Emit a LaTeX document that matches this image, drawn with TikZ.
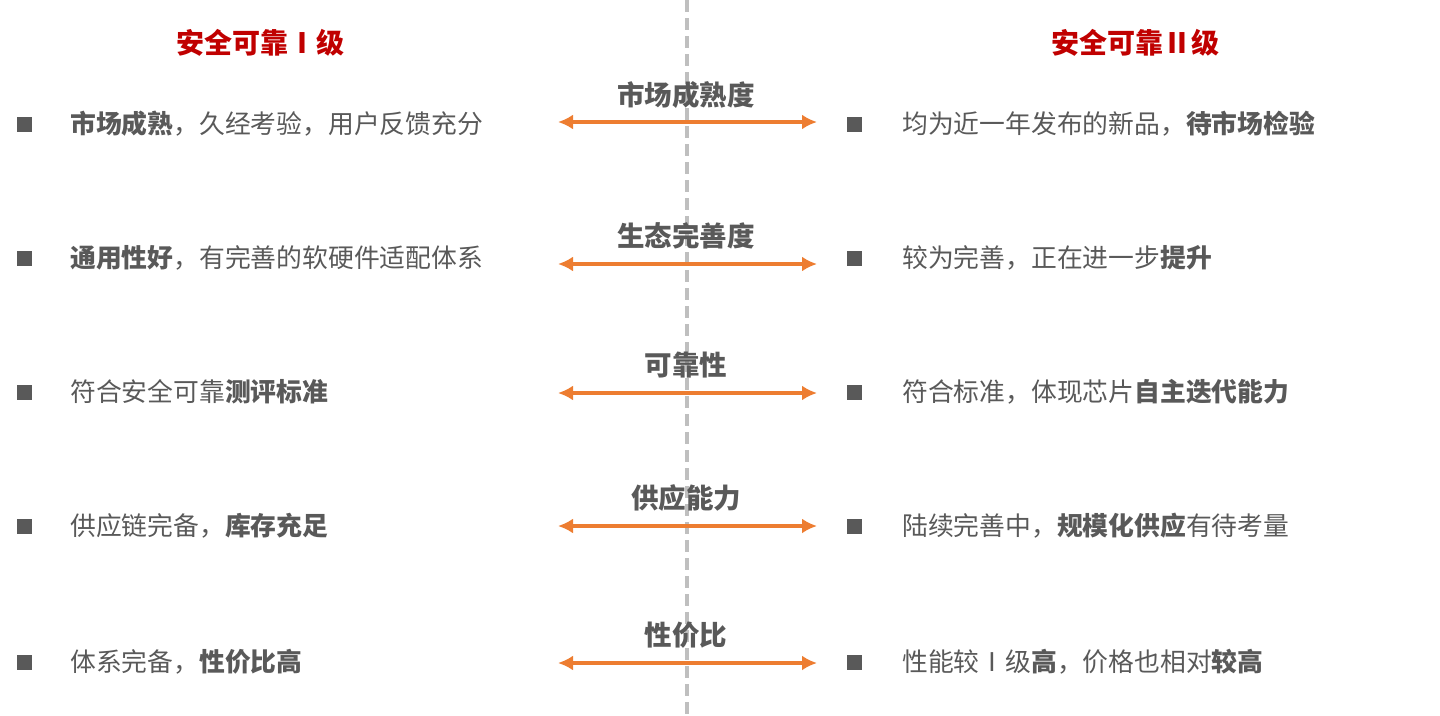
\documentclass[tikz,border=0pt]{standalone}
\usepackage{fontspec}
\setmainfont{Noto Sans CJK SC}
\usetikzlibrary{arrows.meta}
\definecolor{txtgray}{HTML}{595959}
\definecolor{titlered}{HTML}{C00000}
\definecolor{arroworange}{HTML}{ED7D31}
\definecolor{dividergray}{HTML}{BFBFBF}
\tikzset{
  % column headers and items
  coltitle/.style   = { font=\fontsize{28}{32}\selectfont\bfseries, text=titlered, inner sep=0 },
  itembullet/.style = { fill=txtgray, minimum size=15pt, inner sep=0 },
  itemtext/.style   = { anchor=west, font=\fontsize{25.8}{30}\selectfont, text=txtgray, inner sep=0 },
  % middle criteria
  critlabel/.style  = { font=\fontsize{27.5}{31}\selectfont\bfseries, text=txtgray, inner sep=0 },
  twoway/.style     = { line width=3.6pt, draw=arroworange,
                         {Latex[length=15pt,width=15pt]}-{Latex[length=15pt,width=15pt]} },
  divider/.style    = { dashed, dash pattern=on 12pt off 6pt, line width=3.2pt, dividergray }
}
\begin{document}
\begin{tikzpicture}[x=1pt, y=-1pt]
  \useasboundingbox (0,0) rectangle (1440,715);

  % --- dashed centre line ---------------------------------------
  \coordinate (divtop) at (687,0);
  \coordinate (divbot) at (687,715);
  \draw[divider] (divtop) -- (divbot);

  % --- column headers -------------------------------------------
  \node[coltitle] (lefthead)  at (260,43)  {安全可靠Ⅰ级};
  \node[coltitle] (righthead) at (1135,43) {安全可靠Ⅱ级};

  % --- rows: criterion, left item, right item -------------------
  \foreach \i/\y/\ly/\ay/\crit/\ltext/\rtext in {
      1/124/95/122/{市场成熟度}/{\textbf{市场成熟}，久经考验，用户反馈充分}/{均为近一年发布的新品，\textbf{待市场检验}},
      2/258/236/264/{生态完善度}/{\textbf{通用性好}，有完善的软硬件适配体系}/{较为完善，正在进一步\textbf{提升}},
      3/392/365/393/{可靠性}/{符合安全可靠\textbf{测评标准}}/{符合标准，体现芯片\textbf{自主迭代能力}},
      4/526/498/526/{供应能力}/{供应链完备，\textbf{库存充足}}/{陆续完善中，\textbf{规模化供应}有待考量},
      5/662/635/663/{性价比}/{体系完备，\textbf{性价比高}}/{性能较Ⅰ级\textbf{高}，价格也相对\textbf{较高}}} {
    \node[itembullet] (lb\i) at (24,\y) {};
    \node[itemtext]   (lt\i) at (70,\y) {\ltext};
    \node[itembullet] (rb\i) at (854,\y) {};
    \node[itemtext]   (rt\i) at (902,\y) {\rtext};
    \node[critlabel]  (crit\i) at (686,\ly) {\crit};
    \coordinate (al\i) at (558,\ay);
    \coordinate (ar\i) at (817,\ay);
    \draw[twoway] (al\i) -- (ar\i);
  }

\end{tikzpicture}
\end{document}
